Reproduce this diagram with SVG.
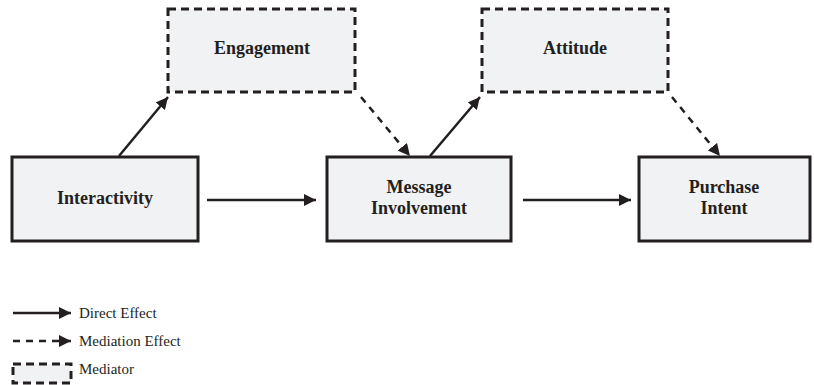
<svg xmlns="http://www.w3.org/2000/svg" width="814" height="385" viewBox="0 0 814 385">
<style>
.box{fill:#f1f2f4;stroke:#231f20;stroke-width:3}
.med{fill:#f1f2f4;stroke:#231f20;stroke-width:3;stroke-dasharray:8 5}
text{font-family:'Liberation Serif','Times New Roman','DejaVu Serif',serif;fill:#231f20}
.lbl{font-weight:bold;font-size:18px;text-anchor:middle}
.leg{font-size:15px}
.ln{stroke:#231f20;stroke-width:2.5;fill:none}
.dl{stroke:#231f20;stroke-width:2.5;fill:none;stroke-dasharray:7 6}
</style>
<defs>
<marker id="ah" viewBox="0 0 12 12" refX="12" refY="6" markerWidth="12" markerHeight="12" markerUnits="userSpaceOnUse" orient="auto">
<path d="M0,0 L12,6 L0,12 Z" fill="#231f20"/>
</marker>
</defs>
<g id="interactivity"><rect class="box" x="12" y="157" width="186" height="84"/><text class="lbl" x="105" y="204">Interactivity</text></g>
<g id="message"><rect class="box" x="327" y="157" width="184" height="84"/><text class="lbl" x="419" y="193">Message</text><text class="lbl" x="419" y="214">Involvement</text></g>
<g id="purchase"><rect class="box" x="639" y="157" width="171" height="84"/><text class="lbl" x="724" y="193">Purchase</text><text class="lbl" x="724" y="214">Intent</text></g>
<g id="engagement"><rect class="med" x="168" y="9" width="187" height="83"/><text class="lbl" x="262" y="54">Engagement</text></g>
<g id="attitude"><rect class="med" x="482" y="9" width="186" height="83"/><text class="lbl" x="575" y="54">Attitude</text></g>
<g id="connectors">
<line class="ln" x1="207" y1="200" x2="316" y2="200" marker-end="url(#ah)"/>
<line class="ln" x1="523" y1="200" x2="631" y2="200" marker-end="url(#ah)"/>
<line class="ln" x1="119" y1="156" x2="168" y2="97" marker-end="url(#ah)"/>
<line class="ln" x1="430" y1="156" x2="480" y2="97" marker-end="url(#ah)"/>
<line class="dl" x1="361" y1="97" x2="410" y2="156" marker-end="url(#ah)"/>
<line class="dl" x1="672" y1="97" x2="720" y2="156" marker-end="url(#ah)"/>
</g>
<g id="legend">
<line class="ln" x1="13" y1="313" x2="71" y2="313" marker-end="url(#ah)"/>
<text class="leg" x="79" y="318">Direct Effect</text>
<line class="dl" x1="13" y1="341" x2="71" y2="341" stroke-dasharray="8 6" marker-end="url(#ah)"/>
<text class="leg" x="79" y="346">Mediation Effect</text>
<rect class="med" x="13" y="364" width="58" height="19" stroke-width="2.5" stroke-dasharray="7 5"/>
<text class="leg" x="79" y="374">Mediator</text>
</g>
</svg>
